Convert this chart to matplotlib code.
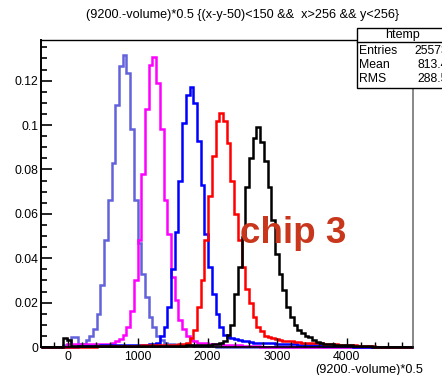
import numpy as np
import matplotlib
matplotlib.use("Agg")
import matplotlib.pyplot as plt
from matplotlib.patches import Rectangle
from matplotlib.ticker import MultipleLocator

plt.rcParams['font.family'] = ['Liberation Sans', 'DejaVu Sans']

# histogram binning (htemp, 100 bins)
XLO, XHI, NBINS = -392.0, 4945.0, 100

# normalised bin contents, each list starts at bin index *_first
violet_first = 6
violet = [0.001, 0.001, 0.0045, 0.0045, 0.0015, 0.0015, 0.003, 0.005, 0.008, 0.015,
          0.028, 0.048, 0.066, 0.083, 0.109, 0.1265, 0.1315, 0.1234, 0.098, 0.066,
          0.047, 0.033, 0.0225, 0.0135, 0.009, 0.005, 0.003, 0.002, 0.0015, 0.0012,
          0.001, 0.001, 0.0009, 0.0008, 0.0007, 0.0006, 0.0005, 0.0005, 0.0004, 0.0003,
          0.0003, 0.0002, 0.0002]

magenta_first = 7
magenta = [0.0012, 0.0015, 0.0015, 0.0015, 0.0015, 0.0015, 0.0015, 0.0015, 0.0015, 0.0015,
           0.0015, 0.0015, 0.002, 0.0025, 0.0035, 0.0055, 0.009, 0.016, 0.030, 0.048,
           0.078, 0.107, 0.127, 0.1308, 0.119, 0.098, 0.066, 0.051, 0.0315, 0.0212,
           0.0122, 0.008, 0.005, 0.003, 0.0025, 0.002, 0.002, 0.0018, 0.0015, 0.0015,
           0.0013, 0.0012, 0.001, 0.001, 0.0009, 0.0008, 0.0007, 0.0006, 0.0005, 0.0004,
           0.0003, 0.0003, 0.0002]

blue_first = 10
blue = [0.0005, 0.0005, 0.0005, 0.0006, 0.0006, 0.0006, 0.0007, 0.0007, 0.0007, 0.0008,
        0.0008, 0.0008, 0.0009, 0.0009, 0.0009, 0.001, 0.001, 0.001, 0.0011, 0.0012,
        0.0015, 0.002, 0.005, 0.009, 0.018, 0.035, 0.052, 0.075, 0.101, 0.1135,
        0.1172, 0.110, 0.093, 0.073, 0.051, 0.036, 0.024, 0.015, 0.009, 0.0053,
        0.0045, 0.004, 0.0035, 0.003, 0.0028, 0.0025, 0.0022, 0.002, 0.002, 0.0019,
        0.0018, 0.0017, 0.0016, 0.0015, 0.0015, 0.0014, 0.0013, 0.0012, 0.0012, 0.0011,
        0.001, 0.001, 0.0009, 0.0008, 0.0008, 0.0007, 0.0006, 0.0006, 0.0005, 0.0005,
        0.0004, 0.0004, 0.0003, 0.0003, 0.0002, 0.0002]

red_first = 15
red = [0.0003, 0.0003, 0.0003, 0.0004, 0.0004, 0.0004, 0.0005, 0.0005, 0.0005, 0.0006,
       0.0006, 0.0006, 0.0007, 0.0007, 0.0008, 0.0008, 0.0009, 0.0009, 0.001, 0.001,
       0.0011, 0.0011, 0.0012, 0.0015, 0.002, 0.004, 0.0075, 0.018, 0.030, 0.048,
       0.068, 0.086, 0.102, 0.1055, 0.102, 0.092, 0.075, 0.060, 0.048, 0.036,
       0.026, 0.020, 0.0135, 0.009, 0.0072, 0.005, 0.0045, 0.004, 0.0035, 0.003,
       0.0028, 0.0026, 0.0025, 0.0024, 0.0022, 0.002, 0.002, 0.0019, 0.0018, 0.0017,
       0.0016, 0.0015, 0.0014, 0.0013, 0.0012, 0.0011, 0.001, 0.0009, 0.0008, 0.0007,
       0.0006, 0.0005, 0.0004, 0.0003, 0.0003, 0.0002]

black_first = 0
black = [0.0002, 0.0002, 0.0002, 0.0002, 0.0002, 0.0002, 0.004, 0.003, 0.0003, 0.0003,
         0.0003, 0.0003, 0.0003, 0.0003, 0.0003, 0.0003, 0.0003, 0.0003, 0.0003, 0.0003,
         0.0003, 0.0003, 0.0003, 0.0003, 0.0003, 0.0003, 0.0003, 0.0003, 0.0004, 0.0004,
         0.0004, 0.0004, 0.0005, 0.0005, 0.0005, 0.0005, 0.0006, 0.0006, 0.0006, 0.0007,
         0.0007, 0.0007, 0.0008, 0.0008, 0.0009, 0.001, 0.0012, 0.0015, 0.0018, 0.0028,
         0.0054, 0.010, 0.024, 0.036, 0.0496, 0.072, 0.085, 0.094, 0.099, 0.0925,
         0.084, 0.072, 0.057, 0.042, 0.033, 0.0257, 0.018, 0.0135, 0.0099, 0.0077,
         0.0063, 0.005, 0.0045, 0.003, 0.0024, 0.0018, 0.0015, 0.0013, 0.0012, 0.001,
         0.001, 0.0009, 0.0008, 0.0007, 0.0006, 0.0005, 0.0004, 0.0003, 0.0003, 0.0002,
         0.0002]

hists = [(violet_first, violet, "#6262da"),
         (magenta_first, magenta, "#ff00ff"),
         (blue_first, blue, "#0000ff"),
         (red_first, red, "#ff0000"),
         (black_first, black, "#000000")]

title = "(9200.-volume)*0.5 {(x-y-50)<150 &&  x>256 && y<256}"
xlabel = "(9200.-volume)*0.5"
stats_name = "htemp"
stats_rows = [("Entries", "25573"), ("Mean", "813.4"), ("RMS", "288.5")]
xticks = [0, 1000, 2000, 3000, 4000]
yticks = [0, 0.02, 0.04, 0.06, 0.08, 0.1, 0.12]
ytick_labels = ["0", "0.02", "0.04", "0.06", "0.08", "0.1", "0.12"]
YMAX = 0.1383


def fill(first, vals):
    h = np.zeros(NBINS)
    h[first:first + len(vals)] = vals
    return h


edges = np.linspace(XLO, XHI, NBINS + 1)

W, H = 442, 375
fig = plt.figure(figsize=(W / 100, H / 100), dpi=100)
ax = fig.add_axes([41 / W, 1 - 347 / H, 371.5 / W, 307 / H])

for first, vals, col in hists:
    ax.stairs(fill(first, vals), edges, color=col, lw=1.8, clip_on=False)

ax.set_xlim(XLO, XHI)
ax.set_ylim(0, YMAX)

# ROOT-like frame and ticks
ax.set_xticks(xticks, labels=[str(t) for t in xticks])
ax.set_yticks(yticks, labels=ytick_labels)
ax.xaxis.set_minor_locator(MultipleLocator(200))
ax.yaxis.set_minor_locator(MultipleLocator(0.005))
ax.tick_params(axis="x", which="major", direction="in", length=6.5, width=1, labelsize=8.8, pad=3)
ax.tick_params(axis="x", which="minor", direction="in", length=3.3, width=1)
ax.tick_params(axis="y", which="major", direction="in", length=8, width=1.2, labelsize=8.8, pad=2)
ax.tick_params(axis="y", which="minor", direction="in", length=4, width=1.2)
ax.spines["left"].set_linewidth(1.4)
ax.spines["bottom"].set_linewidth(1.2)
ax.spines["top"].set_linewidth(1.0)
ax.spines["right"].set_color("0.45")
ax.spines["right"].set_linewidth(1.2)

fig.text(243 / W, 1 - 15 / H, title, ha="center", va="center", fontsize=9.1)
fig.text(423 / W, 1 - 370 / H, xlabel, ha="right", va="center", fontsize=9.1)

fig.text(240 / W, 1 - 243 / H, "chip 3", ha="left", va="baseline",
         fontsize=26.5, fontweight="bold", color="#c8361c")

# stats box (runs off the right edge, as in the original canvas)
box = Rectangle((356.7 / W, 1 - 88.3 / H), 0.3, 60 / H, transform=fig.transFigure,
                facecolor="white", edgecolor="black", lw=1, zorder=5)
fig.add_artist(box)
fig.add_artist(plt.Line2D([356.7 / W, 1], [1 - 42.3 / H] * 2, transform=fig.transFigure,
                          color="black", lw=1, zorder=6))
fig.text(403 / W, 1 - 35 / H, stats_name, ha="center", va="center", fontsize=9, zorder=7)
for i, (lab, val) in enumerate(stats_rows):
    y = 1 - (50.5 + 14 * i) / H
    fig.text(359.5 / W, y, lab, ha="left", va="center", fontsize=8.8, zorder=7)
    fig.text(448 / W, y, val, ha="right", va="center", fontsize=8.8, zorder=7)

fig.savefig("out.png", dpi=100)
